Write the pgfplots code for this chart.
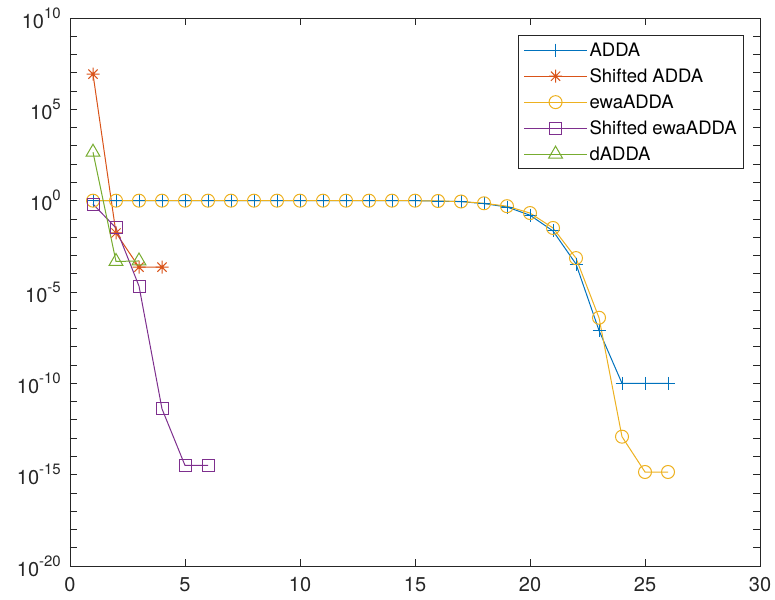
\documentclass[border=0pt]{standalone}
\usepackage{fontspec}
\setmainfont{TeX Gyre Heros}
\usepackage{pgfplots}
\pgfplotsset{compat=1.18}

\definecolor{mblue}{rgb}{0,0.447,0.741}
\definecolor{morange}{rgb}{0.85,0.325,0.098}
\definecolor{myellow}{rgb}{0.929,0.694,0.125}
\definecolor{mpurple}{rgb}{0.494,0.184,0.556}
\definecolor{mgreen}{rgb}{0.466,0.674,0.188}
\definecolor{maxis}{rgb}{0.15,0.15,0.15}

% matlab style '*': a plus and a cross on top of each other
\pgfdeclareplotmark{mstar}{%
  \pgfpathmoveto{\pgfqpoint{-\pgfplotmarksize}{0pt}}\pgfpathlineto{\pgfqpoint{\pgfplotmarksize}{0pt}}%
  \pgfpathmoveto{\pgfqpoint{0pt}{-\pgfplotmarksize}}\pgfpathlineto{\pgfqpoint{0pt}{\pgfplotmarksize}}%
  \pgfpathmoveto{\pgfqpoint{-.707\pgfplotmarksize}{-.707\pgfplotmarksize}}\pgfpathlineto{\pgfqpoint{.707\pgfplotmarksize}{.707\pgfplotmarksize}}%
  \pgfpathmoveto{\pgfqpoint{-.707\pgfplotmarksize}{.707\pgfplotmarksize}}\pgfpathlineto{\pgfqpoint{.707\pgfplotmarksize}{-.707\pgfplotmarksize}}%
  \pgfusepathqstroke}

\newcommand{\tk}[1]{10\raisebox{10pt}{\fontsize{15}{16}\selectfont #1}}

\begin{document}
\begin{tikzpicture}
  \begin{axis}[width=690pt,height=548pt,scale only axis,
    ymode=log, xmin=0, xmax=30, ymin=1e-20, ymax=1e10,
    xtick={0,5,...,30},
    ytick={1e-20,1e-15,1e-10,1e-5,1,1e5,1e10},
    yticklabels={\tk{-20},\tk{-15},\tk{-10},\tk{-5},\tk{0},\tk{5},\tk{10}},
    minor ytick={1e-19,1e-18,1e-17,1e-16,1e-14,1e-13,1e-12,1e-11,1e-9,1e-8,1e-7,1e-6,
      1e-4,1e-3,1e-2,1e-1,1e1,1e2,1e3,1e4,1e6,1e7,1e8,1e9},
    major tick length=7pt, minor tick length=7pt,
    every tick/.style={maxis, line width=0.8pt},
    axis line style={maxis, line width=0.8pt},
    tick label style={font=\fontsize{20}{24}\selectfont, text=maxis},
    xticklabel style={inner sep=0pt, yshift=-11pt},
    yticklabel style={inner sep=0pt, xshift=-9pt},
    /pgf/number format/assume math mode=true,
    legend cell align=left,
    legend style={at={(0.9768,0.969)}, anchor=north east, draw=maxis, line width=0.8pt,
      font=\fontsize{18.5}{22}\selectfont, inner xsep=5pt, inner ysep=6pt,
      row sep=8.5pt, nodes={inner sep=2pt, text height=13.5pt, text depth=0pt}},
    legend image code/.code={\draw[mark repeat=2,mark phase=2] plot coordinates {(0pt,0pt) (31.5pt,0pt) (63pt,0pt)};},
    every axis plot/.append style={line width=1pt, mark options={solid, line width=1pt}}]

    \addplot[mblue, mark=+, mark size=6.5pt] coordinates {
      (1,1) (2,1) (3,1) (4,1) (5,1) (6,1) (7,1) (8,1) (9,1) (10,1) (11,1) (12,1) (13,1)
      (14,1) (15,1) (16,0.95) (17,0.89) (18,0.69) (19,0.45) (20,0.16) (21,0.022)
      (22,3.4e-4) (23,7.9e-8) (24,1.0e-10) (25,1.0e-10) (26,1.0e-10)};
    \addplot[morange, mark=mstar, mark size=6.5pt] coordinates {
      (1,8.5e6) (2,0.017) (3,2.3e-4) (4,2.3e-4)};
    \addplot[myellow, mark=o, mark size=6.5pt] coordinates {
      (1,1) (2,1) (3,1) (4,1) (5,1) (6,1) (7,1) (8,1) (9,1) (10,1) (11,1) (12,1) (13,1)
      (14,1) (15,1) (16,0.96) (17,0.9) (18,0.72) (19,0.5) (20,0.21) (21,0.032)
      (22,7.2e-4) (23,3.9e-7) (24,1.2e-13) (25,1.4e-15) (26,1.4e-15)};
    \addplot[mpurple, mark=square, mark size=6pt] coordinates {
      (1,0.65) (2,0.032) (3,2.1e-5) (4,4e-12) (5,3.2e-15) (6,3.2e-15)};
    \addplot[mgreen, mark=triangle, mark size=8pt] coordinates {
      (1,450) (2,4.7e-4) (3,5e-4)};
    \legend{ADDA, Shifted ADDA, ewaADDA, Shifted ewaADDA, dADDA}
  \end{axis}
  \pgfresetboundingbox
  \useasboundingbox (-70pt,-33pt) rectangle (705pt,566pt);
\end{tikzpicture}
\end{document}
